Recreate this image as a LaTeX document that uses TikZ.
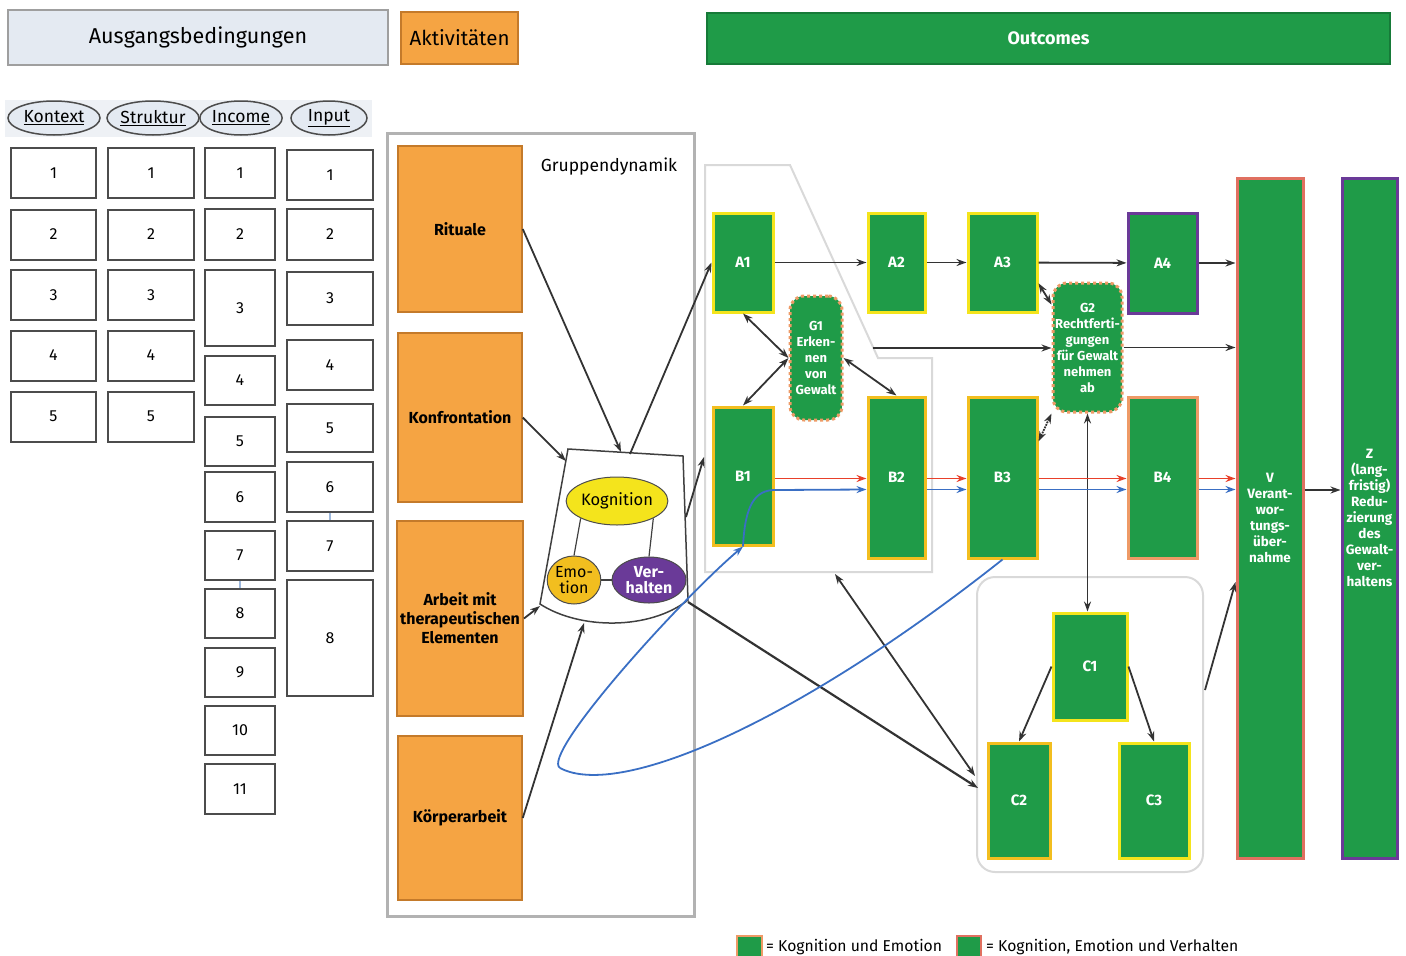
\documentclass[tikz,border=0pt]{standalone}
\usepackage{fontspec}
\setmainfont{Fira Sans}
\usetikzlibrary{shapes.geometric, arrows.meta, positioning}

\definecolor{grn}{HTML}{1F9B48}
\definecolor{grndark}{HTML}{167A38}
\definecolor{hdrblue}{HTML}{E4EAF2}
\definecolor{bandblue}{HTML}{EEF1F5}
\definecolor{actorange}{HTML}{F5A443}
\definecolor{actborder}{HTML}{C47A2A}
\definecolor{kogyellow}{HTML}{F4E41C}
\definecolor{emogold}{HTML}{F2BE1F}
\definecolor{kesalmon}{HTML}{EE9A66}
\definecolor{kevred}{HTML}{E07060}
\definecolor{verhpurple}{HTML}{6A3A98}
\definecolor{arrgray}{HTML}{333333}
\definecolor{redline}{HTML}{E8402A}
\definecolor{blueline}{HTML}{3A6FC4}
\definecolor{tickblue}{HTML}{9DB8DD}

\begin{document}
\begin{tikzpicture}[x=1pt, y=-1pt,
  hdr/.style={rectangle, draw=gray!75, line width=2pt},
  oval/.style={ellipse, draw=gray!60!black, line width=1.5pt, fill=hdrblue, inner sep=0pt, font=\fontsize{17.5}{18}\selectfont},
  num/.style={rectangle, draw=gray!60!black, line width=2pt, fill=white, font=\fontsize{16}{18}\selectfont},
  act/.style={rectangle, draw=actborder, line width=1.5pt, fill=actorange, minimum width=124pt, align=center, font=\bfseries\fontsize{16}{19}\selectfont},
  gbox/.style={rectangle, fill=grn, draw=kogyellow, line width=3pt, text=white, font=\bfseries\fontsize{15}{18}\selectfont},
  gdash/.style={rectangle, rounded corners=14pt, fill=grn, draw=kesalmon, dashed, line width=3pt, text=white, align=center, inner sep=0pt, font=\bfseries\fontsize{13}{16}\selectfont},
  bar/.style={rectangle, fill=grn, line width=3pt, minimum height=680pt, text=white, align=center, inner sep=1pt, font=\bfseries\fontsize{13.5}{16}\selectfont},
  frame/.style={draw=gray!30, line width=2pt},
  arr/.style={-{Stealth[length=10pt,width=7pt]}, line width=1.8pt, draw=arrgray},
  darr/.style={{Stealth[length=10pt,width=7pt]}-{Stealth[length=10pt,width=7pt]}, line width=1.8pt, draw=arrgray}
]
  \useasboundingbox (0,0) rectangle (1406,956);

  % Kopfzeile
  \node[hdr, fill=hdrblue, minimum width=380pt, minimum height=55pt, font=\fontsize{21.5}{24}\selectfont] (ausg) at (198,37.5) {Ausgangsbedingungen};
  \node[hdr, fill=actorange, draw=actborder, minimum width=117pt, minimum height=52pt, font=\fontsize{20.5}{24}\selectfont] (aktiv) at (459.5,38) {Aktivitäten};
  \node[hdr, fill=grn, draw=grndark, minimum width=683pt, minimum height=51pt, text=white, font=\bfseries\fontsize{18}{20}\selectfont] (outc) at (1048.5,38.5) {Outcomes};

  % Ausgangsbedingungen
  \fill[bandblue] (5,100) rectangle (372,137);
  \node[oval, minimum width=92pt, minimum height=34pt] (kontext) at (54,118) {\underline{Kontext}};
  \node[oval, minimum width=92pt, minimum height=34pt] (struktur) at (153,118) {\underline{Struktur}};
  \node[oval, minimum width=72pt, minimum height=34pt] (income) at (241,118) {\underline{Income}};
  \node[oval, minimum width=76pt, minimum height=34pt] (input) at (329,118) {\underline{Input}};

  \foreach \n/\y in {1/173, 2/234.5, 3/295, 4/355.5, 5/416.5} {
    \node[num, minimum width=85pt, minimum height=50pt] (k\n) at (53.5,\y) {\n};
    \node[num, minimum width=86pt, minimum height=50pt] (s\n) at (151,\y) {\n};
  }
  \foreach \n/\y/\h in {1/173/50, 2/234.5/51, 3/308/76, 4/380.5/49, 5/441.5/49, 6/497/50, 7/555.5/49, 8/613.5/49, 9/672.5/49, 10/730.5/49, 11/789/50}
    \node[num, minimum width=70pt, minimum height=\h pt] (i\n) at (240,\y) {\n};
  \foreach \n/\y/\h in {1/175/50, 2/234.5/51, 3/298.5/53, 4/365/50, 5/428/48, 6/487/50, 7/546/50, 8/638/116}
    \node[num, minimum width=86pt, minimum height=\h pt] (p\n) at (330,\y) {\n};
  \draw[tickblue, line width=1.5pt] (i7.south) -- (i8.north);
  \draw[tickblue, line width=1.5pt] (p6.south) -- (p7.north);

  % Aktivitaeten
  \node[draw=gray!60, line width=3pt, minimum width=307pt, minimum height=783pt] (actframe) at (540.5,524.5) {};
  \node[font=\fontsize{17.5}{18}\selectfont] (gruppe) at (609,167) {Gruppendynamik};
  \node[act, minimum height=166pt] (rituale) at (460,229) {Rituale};
  \node[act, minimum height=169pt] (konfr) at (460,417.5) {Konfrontation};
  \node[act, minimum height=195pt] (arbeit) at (460,618.5) {Arbeit mit\\therapeutischen\\Elementen};
  \node[act, minimum height=164pt] (koerper) at (460,818) {Körperarbeit};

  % Gruppendynamik-Form
  \draw[line width=1.5pt, black!75] (568,449) -- (683,456) -- (688,600) .. controls (650,630) and (580,630) .. (540,604) -- cycle;
  \coordinate (gdtop) at (621,452);
  \coordinate (gdtl) at (566,461);
  \coordinate (gdleft) at (540,606);
  \coordinate (gdbot) at (584,623);
  \coordinate (gdtr) at (630,454);
  \coordinate (gdright) at (686,517);
  \coordinate (gdbr) at (688,602);
  \node[ellipse, draw=gray!60!black, line width=1pt, fill=kogyellow, minimum width=96pt, minimum height=48pt, inner sep=0pt, font=\fontsize{16.5}{17}\selectfont] (kog) at (617,501) {Kognition};
  \node[ellipse, draw=gray!60!black, line width=1pt, fill=emogold, minimum width=52pt, minimum height=48pt, inner sep=0pt, align=center, font=\fontsize{16}{16}\selectfont] (emo) at (574,580) {Emo-\\tion};
  \node[ellipse, draw=gray!60!black, line width=1pt, fill=verhpurple, minimum width=74pt, minimum height=46pt, inner sep=0pt, align=center, text=white, font=\bfseries\fontsize{16}{16}\selectfont] (verh) at (649,580) {Ver-\\halten};
  \draw[line width=1.2pt, black!75] (kog.south west) -- (emo.north);
  \draw[line width=1.2pt, black!75] (kog.south east) -- (verh.north);
  \draw[line width=1.2pt, black!75] (emo.east) -- (verh.west);

  % Outcome-Rahmen
  \draw[frame] (705,165) -- (790,165) -- (878,358) -- (932,358) -- (932,572) -- (705,572) -- cycle;
  \coordinate (abcorner) at (873,348);
  \coordinate (ableft) at (704,457);
  \coordinate (abbot) at (835,574);
  \node[frame, rounded corners=18pt, minimum width=226pt, minimum height=295pt] (cframe) at (1090,724.5) {};
  \coordinate (cin1) at (978,788);
  \coordinate (cin2) at (975,776);
  \coordinate (cout) at (1205,690);

  % Outcomes
  \node[gbox, minimum width=60pt, minimum height=99pt] (A1) at (743,262.5) {A1};
  \node[gbox, minimum width=57pt, minimum height=99pt] (A2) at (896.5,262.5) {A2};
  \node[gbox, minimum width=69pt, minimum height=99pt] (A3) at (1002.5,262.5) {A3};
  \node[gbox, draw=verhpurple, minimum width=69pt, minimum height=100pt] (A4) at (1162.5,263) {A4};
  \node[gbox, draw=emogold, minimum width=60pt, minimum height=138pt] (B1) at (743,476) {B1};
  \node[gbox, draw=emogold, minimum width=57pt, minimum height=161pt] (B2) at (896.5,477.5) {B2};
  \node[gbox, draw=emogold, minimum width=69pt, minimum height=161pt] (B3) at (1002.5,477.5) {B3};
  \node[gbox, draw=kesalmon, minimum width=69pt, minimum height=161pt] (B4) at (1162.5,477.5) {B4};
  \node[gdash, minimum width=52pt, minimum height=124pt] (G1) at (816,358) {G1\\Erken-\\nen\\von\\Gewalt};
  \node[gdash, minimum width=69pt, minimum height=129pt] (G2) at (1087.5,347.5) {G2\\Rechtferti-\\gungen\\für Gewalt\\nehmen\\ab};
  \node[gbox, minimum width=74pt, minimum height=107pt] (C1) at (1090,666.5) {C1};
  \node[gbox, draw=emogold, minimum width=62pt, minimum height=115pt] (C2) at (1019,800.5) {C2};
  \node[gbox, minimum width=70pt, minimum height=115pt] (C3) at (1154,800.5) {C3};
  \node[bar, draw=kevred, minimum width=66pt] (V) at (1270,518) {V\\Verant-\\wor-\\tungs-\\über-\\nahme};
  \node[bar, draw=verhpurple, minimum width=55pt] (Z) at (1369.5,518) {Z\\(lang-\\fristig)\\Redu-\\zierung\\des\\Gewalt-\\ver-\\haltens};

  % Pfeile Aktivitaeten
  \draw[arr] (rituale.east) -- (gdtop);
  \draw[arr] (konfr.east) -- (gdtl);
  \draw[arr] (arbeit.east) -- (gdleft);
  \draw[arr] (koerper.east) -- (gdbot);
  \draw[arr] (gdtr) -- (A1.west);
  \draw[arr] (gdright) -- (ableft);
  \draw[arr, line width=2.2pt] (gdbr) -- (cin1);
  \draw[darr] (abbot) -- (cin2);

  % Pfeile Outcomes
  \draw[arr] (A1) -- (A2);
  \draw[arr] (A2) -- (A3);
  \draw[arr] (A3) -- (A4);
  \draw[arr] (A4.east) -- (A4.east -| V.west);
  \draw[darr] (A1.south) -- (G1.west);
  \draw[darr] (G1.west) -- (B1.north);
  \draw[darr] (G1.east) -- (B2.north);
  \draw[darr] (A3.-30) -- (G2.130);
  \draw[darr, densely dotted] (G2.south west) -- (B3.45);
  \draw[darr] (G2.south) -- (G2.south |- C1.north);
  \draw[arr] (abcorner) -- (abcorner -| G2.west);
  \draw[arr] (G2.east) -- (G2.east -| V.west);
  \draw[arr] (C1.west) -- (C2.north);
  \draw[arr] (C1.east) -- (C3.north);
  \draw[arr] (cout) -- ([yshift=-64pt]V.west);
  \draw[arr] ([yshift=28pt]V.east) -- ([yshift=28pt]Z.west);

  % rote und blaue Pfeile
  \foreach \a/\b in {B1/B2, B2/B3, B3/B4, B4/V} {
    \draw[arr, redline] ([yshift=-1pt]\a.east |- B2.center) -- ([yshift=-1pt]\b.west |- B2.center);
  }
  \foreach \a/\b in {B2/B3, B3/B4, B4/V} {
    \draw[arr, blueline] ([yshift=-12pt]\a.east |- B2.center) -- ([yshift=-12pt]\b.west |- B2.center);
  }
  \draw[blueline, line width=1.8pt] (B3.south) .. controls (800,720) and (620,800) .. (560,768);
  \draw[arr, blueline] (560,768) .. controls (540,755) and (680,600) .. (B1.south);
  \draw[arr, blueline] (B1.south) .. controls (745,505) and (755,490) .. (775,490) -- ([yshift=-12pt]B2.west |- B2.center);

  % Legende
  \node[rectangle, fill=grn, draw=kesalmon, line width=2pt, minimum width=25pt, minimum height=24pt] (leg1) at (749.5,948) {};
  \node[anchor=west, inner sep=0pt, font=\fontsize{15.7}{18}\selectfont] (legtxt1) at (766,947) {= Kognition und Emotion};
  \node[rectangle, fill=grn, draw=kevred, line width=2pt, minimum width=24pt, minimum height=24pt] (leg2) at (969,948) {};
  \node[anchor=west, inner sep=0pt, font=\fontsize{15.7}{18}\selectfont] (legtxt2) at (986,947) {= Kognition, Emotion und Verhalten};
\end{tikzpicture}
\end{document}
